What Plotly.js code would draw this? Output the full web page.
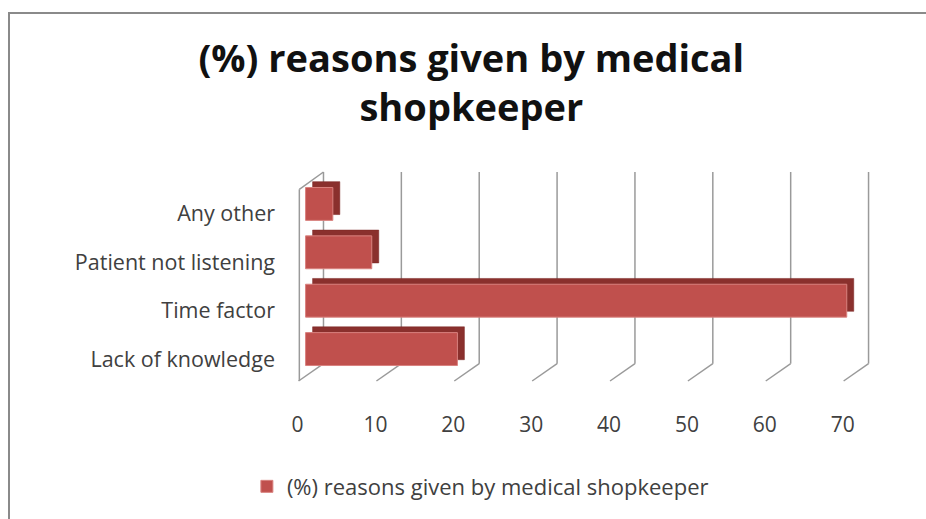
<!DOCTYPE html>
<html>
<head>
<meta charset="utf-8">
<script src="https://cdn.plot.ly/plotly-3.0.1.min.js"></script>
<style>
  html, body { margin: 0; padding: 0; background: #fff; }
  #wrap { position: relative; width: 926px; height: 519px; }
  #frame { position: absolute; left: 8px; top: 12px; right: -4px; bottom: -4px;
           border-left: 2px solid #8a8a8a; border-top: 2px solid #8a8a8a; pointer-events: none; }
  #chart { position: absolute; left: 0; top: 0; width: 926px; height: 519px; }
</style>
</head>
<body>
<div id="wrap">
  <div id="chart"></div>
  <div id="frame"></div>
</div>
<script>
// Data
const categories = ["Lack of knowledge", "Time factor", "Patient not listening", "Any other"];
const values = [19.5, 69.5, 8.5, 3.5];
const tickValues = [0, 10, 20, 30, 40, 50, 60, 70];
const seriesName = "(%) reasons given by medical shopkeeper";

const backOffset = 2.3;   // back wall shift (axis units)
const frontOffset = -0.9; // front floor shift (axis units)
const wallBottom = 0.083; // paper
const sideTop = 0.917;    // paper

const shapes = [];
const gridStyle = {color: "#9a9a9a", width: 1.5};
tickValues.forEach(v => {
  shapes.push({type: "line", xref: "x", yref: "paper", layer: "below",
    x0: v + backOffset, x1: v + backOffset, y0: wallBottom, y1: 1, line: gridStyle});
  shapes.push({type: "line", xref: "x", yref: "paper", layer: "below",
    x0: v + backOffset, x1: v + frontOffset, y0: wallBottom, y1: 0, line: gridStyle});
});
// left side wall
shapes.push({type: "line", xref: "x", yref: "paper", layer: "below",
  x0: frontOffset + 0.1, x1: frontOffset + 0.1, y0: 0, y1: sideTop, line: gridStyle});
shapes.push({type: "line", xref: "x", yref: "paper", layer: "below",
  x0: frontOffset + 0.1, x1: backOffset, y0: sideTop, y1: 1, line: gridStyle});

const depthTrace = {
  type: "bar", orientation: "h", y: categories, x: values,
  base: 0.9, width: 0.68, offset: -0.22,
  marker: {color: "#8a302d", line: {color: "#7a2725", width: 0.5}},
  showlegend: false, hoverinfo: "skip"
};
const frontTrace = {
  type: "bar", orientation: "h", y: categories, x: values,
  width: 0.68, offset: -0.34, name: seriesName,
  marker: {color: "#c0504d", line: {color: "#d9827f", width: 1}},
  hoverinfo: "skip"
};

const fam = "'Open Sans', Lato, sans-serif";
const layout = {
  width: 926, height: 519,
  margin: {l: 290, r: 52, t: 172, b: 131},
  paper_bgcolor: "#ffffff", plot_bgcolor: "rgba(0,0,0,0)",
  barmode: "overlay",
  font: {family: fam, color: "#404040", size: 21},
  title: {
    text: "(%) reasons given by medical<br>shopkeeper",
    font: {family: fam, size: 38, color: "#111111", weight: "bold"},
    xref: "container", yref: "container", x: 0.509, xanchor: "center",
    y: 1 - 72/519, yanchor: "top"
  },
  xaxis: {
    range: [-2, 73], tickvals: tickValues, ticktext: tickValues.map(String),
    showgrid: false, zeroline: false, showline: false, ticks: "",
    ticklabelshift: -8, ticklabelstandoff: 29,
    tickfont: {size: 21, color: "#404040"}, fixedrange: true
  },
  yaxis: {
    type: "category", range: [-0.66, 3.66],
    showgrid: false, zeroline: false, showline: false, ticks: "",
    ticklabelshift: 10, ticklabelstandoff: 14,
    tickfont: {size: 21.5, color: "#404040"}, fixedrange: true
  },
  legend: {
    orientation: "h", x: 0.326, xanchor: "center", y: -0.505, yanchor: "middle",
    font: {size: 22, color: "#404040"}
  },
  shapes: shapes,
  showlegend: true
};

Plotly.newPlot("chart", [depthTrace, frontTrace], layout, {staticPlot: true, displayModeBar: false});
</script>
</body>
</html>
